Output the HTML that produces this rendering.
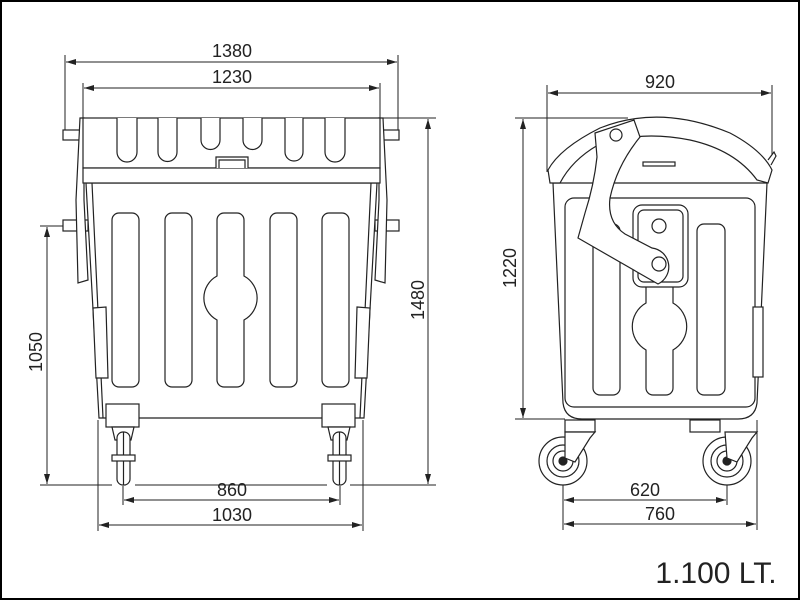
<!DOCTYPE html>
<html><head><style>
html,body{margin:0;padding:0;background:#fff}
svg{display:block}
text{font-family:"Liberation Sans",Arial,sans-serif;fill:#222}
</style></head><body>
<svg width="800" height="600" viewBox="0 0 800 600" xmlns="http://www.w3.org/2000/svg">
<defs>
<marker id="a" viewBox="0 0 10 6" refX="10" refY="3" markerWidth="10" markerHeight="6" orient="auto-start-reverse" markerUnits="userSpaceOnUse"><path d="M0,0 L10,3 L0,6 z" fill="#222"/></marker>
</defs>
<rect x="1" y="1" width="798" height="598" fill="#fff" stroke="#000" stroke-width="2"/>
<g fill="none" stroke="#222" stroke-width="1">
<line x1="65" y1="55" x2="65" y2="140"/><line x1="398" y1="55" x2="398" y2="140"/>
<line x1="66" y1="62" x2="397" y2="62" marker-start="url(#a)" marker-end="url(#a)"/>
<line x1="83" y1="83" x2="83" y2="118"/><line x1="380" y1="83" x2="380" y2="118"/>
<line x1="84" y1="88" x2="379" y2="88" marker-start="url(#a)" marker-end="url(#a)"/>
<line x1="380" y1="118" x2="436" y2="118"/>
<line x1="428" y1="119" x2="428" y2="484" marker-start="url(#a)" marker-end="url(#a)"/>
<line x1="40" y1="226" x2="85" y2="226"/>
<line x1="47" y1="227" x2="47" y2="484" marker-start="url(#a)" marker-end="url(#a)"/>
<line x1="40" y1="485" x2="112" y2="485"/><line x1="135" y1="485" x2="327" y2="485"/><line x1="350" y1="485" x2="436" y2="485"/>
<line x1="123" y1="486" x2="123" y2="505"/><line x1="340" y1="486" x2="340" y2="505"/>
<line x1="124" y1="500" x2="339" y2="500" marker-start="url(#a)" marker-end="url(#a)"/>
<line x1="98" y1="420" x2="98" y2="531"/><line x1="363" y1="420" x2="363" y2="531"/>
<line x1="99" y1="525" x2="362" y2="525" marker-start="url(#a)" marker-end="url(#a)"/>
</g>
<g fill="#fff" stroke="#222" stroke-width="1.2">
<rect x="63" y="130" width="18" height="10"/><rect x="381" y="130" width="18" height="10"/>
<rect x="63" y="220" width="25" height="11"/><rect x="375" y="220" width="24" height="11"/>
<path d="M80,118 L84,118 L84,200 L88,280 L78,283 L76,200 Z"/>
<path d="M383,118 L379,118 L379,200 L375,280 L385,283 L387,200 Z"/>
<path d="M86,183 L377,183 L364,418 L99,418 Z"/>
<path d="M92,183 L103,418 M371,183 L360,418"/>
<rect x="83" y="118" width="297" height="50"/>
<rect x="83" y="168" width="297" height="15"/>
<path d="M117,118 V152 A10,10 0 0 0 137,152 V118"/>
<path d="M158,118 V152 A9.5,9.5 0 0 0 177,152 V118"/>
<path d="M201,118 V140 A9.5,9.5 0 0 0 220,140 V118"/>
<path d="M243,118 V140 A9.5,9.5 0 0 0 262,140 V118"/>
<path d="M285,118 V152 A9,9 0 0 0 303,152 V118"/>
<path d="M325,118 V152 A10,10 0 0 0 345,152 V118"/>
<path d="M216,168 V157 H248 V168 M219,168 V160 H245 V168"/>
<rect x="112" y="213" width="27" height="174" rx="7"/>
<rect x="165" y="213" width="27" height="174" rx="7"/>
<rect x="270" y="213" width="27" height="174" rx="7"/>
<rect x="322" y="213" width="27" height="174" rx="7"/>
<path d="M224,213 H237 A7,7 0 0 1 244,220 V276 A25,25 0 0 1 244,320 V380 A7,7 0 0 1 237,387 H224 A7,7 0 0 1 217,380 V320 A25,25 0 0 1 217,276 V220 A7,7 0 0 1 224,213 Z"/>
<path d="M93,308 L106,307 L108,378 L96,378 Z"/>
<path d="M357,307 L370,308 L367,378 L355,378 Z"/>
<rect x="106" y="404" width="33" height="23"/><rect x="322" y="404" width="33" height="23"/>
<path d="M112,427 H134 L131,440 H115 Z"/><rect x="117" y="432" width="13" height="53" rx="6"/>
<line x1="123.5" y1="432" x2="123.5" y2="485"/><rect x="112" y="455" width="23" height="6"/>
<path d="M328,427 H350 L347,440 H331 Z"/><rect x="333" y="432" width="13" height="53" rx="6"/>
<line x1="339.5" y1="432" x2="339.5" y2="485"/><rect x="328" y="455" width="23" height="6"/>
</g>
<g font-size="18" text-anchor="middle">
<text x="232" y="57">1380</text>
<text x="232" y="83">1230</text>
<text x="232" y="496">860</text>
<text x="232" y="521">1030</text>
<text transform="translate(42,352) rotate(-90)">1050</text>
<text transform="translate(424,300) rotate(-90)">1480</text>
</g>

<g fill="none" stroke="#222" stroke-width="1">
<line x1="547" y1="85" x2="547" y2="172"/><line x1="772" y1="85" x2="772" y2="158"/>
<line x1="548" y1="93" x2="771" y2="93" marker-start="url(#a)" marker-end="url(#a)"/>
<line x1="515" y1="118" x2="628" y2="118"/><line x1="515" y1="419" x2="565" y2="419"/>
<line x1="523" y1="119" x2="523" y2="418" marker-start="url(#a)" marker-end="url(#a)"/>
<line x1="563" y1="440" x2="563" y2="530"/><line x1="727" y1="440" x2="727" y2="505"/><line x1="757" y1="420" x2="757" y2="530"/>
<line x1="564" y1="500" x2="726" y2="500" marker-start="url(#a)" marker-end="url(#a)"/>
<line x1="564" y1="524" x2="756" y2="524" marker-start="url(#a)" marker-end="url(#a)"/>
</g>
<g fill="#fff" stroke="#222" stroke-width="1.2">
<path d="M553,183 L767,183 L757,403 Q755,419 738,419 L582,419 Q565,419 563,403 Z"/>
<rect x="565" y="198" width="190" height="209" rx="9"/>
<rect x="593" y="224" width="27" height="171" rx="7"/>
<rect x="697" y="224" width="28" height="171" rx="7"/>
<path d="M646,287 V303 A27,27 0 0 0 646,350 V388 A7,7 0 0 0 653,395 H666 A7,7 0 0 0 673,388 V350 A27,27 0 0 0 673,303 V287"/>
<rect x="633" y="205" width="55" height="82" rx="9"/>
<rect x="638" y="210" width="45" height="72" rx="6"/>
<circle cx="659" cy="226" r="7"/>
<path d="M548,170 Q560,148 600,128 Q660,104 730,133 Q762,150 772,170 L768,183 L757,180 Q735,150 690,140 Q640,130 598,145 Q572,160 560,183 L550,183 Z"/>
<rect x="643" y="162" width="32" height="4"/>
<path d="M768,160 L774,152 L776,156 L771,165"/>
<rect x="753" y="307" width="10" height="70"/>
<path d="M595,133 L634,120 L640,137 Q617,165 610,198 Q607,222 625,234 L652,248 A19,19 0 0 1 658,284 L578,238 L585,213 Q594,185 597,157 Z"/>
<circle cx="616" cy="135" r="6"/><circle cx="659" cy="264" r="7"/>
<rect x="565" y="420" width="30" height="12"/><rect x="690" y="420" width="30" height="12"/>
<circle cx="563" cy="461" r="24"/><circle cx="563" cy="461" r="16"/><circle cx="563" cy="461" r="10"/><circle cx="563" cy="461" r="4" fill="#222"/>
<circle cx="727" cy="461" r="24"/><circle cx="727" cy="461" r="16"/><circle cx="727" cy="461" r="10"/><circle cx="727" cy="461" r="4" fill="#222"/>
<path d="M565,432 L595,432 L590,438 L575,462 L565,458 Z"/>
<path d="M725,432 L757,432 L752,438 L737,462 L727,458 Z"/>
</g>
<g font-size="18" text-anchor="middle">
<text x="660" y="88">920</text>
<text x="645" y="496">620</text>
<text x="660" y="520">760</text>
<text transform="translate(516,268) rotate(-90)">1220</text>
</g>
<text x="716" y="583" font-size="30" text-anchor="middle">1.100 LT.</text>
</svg>
</body></html>
